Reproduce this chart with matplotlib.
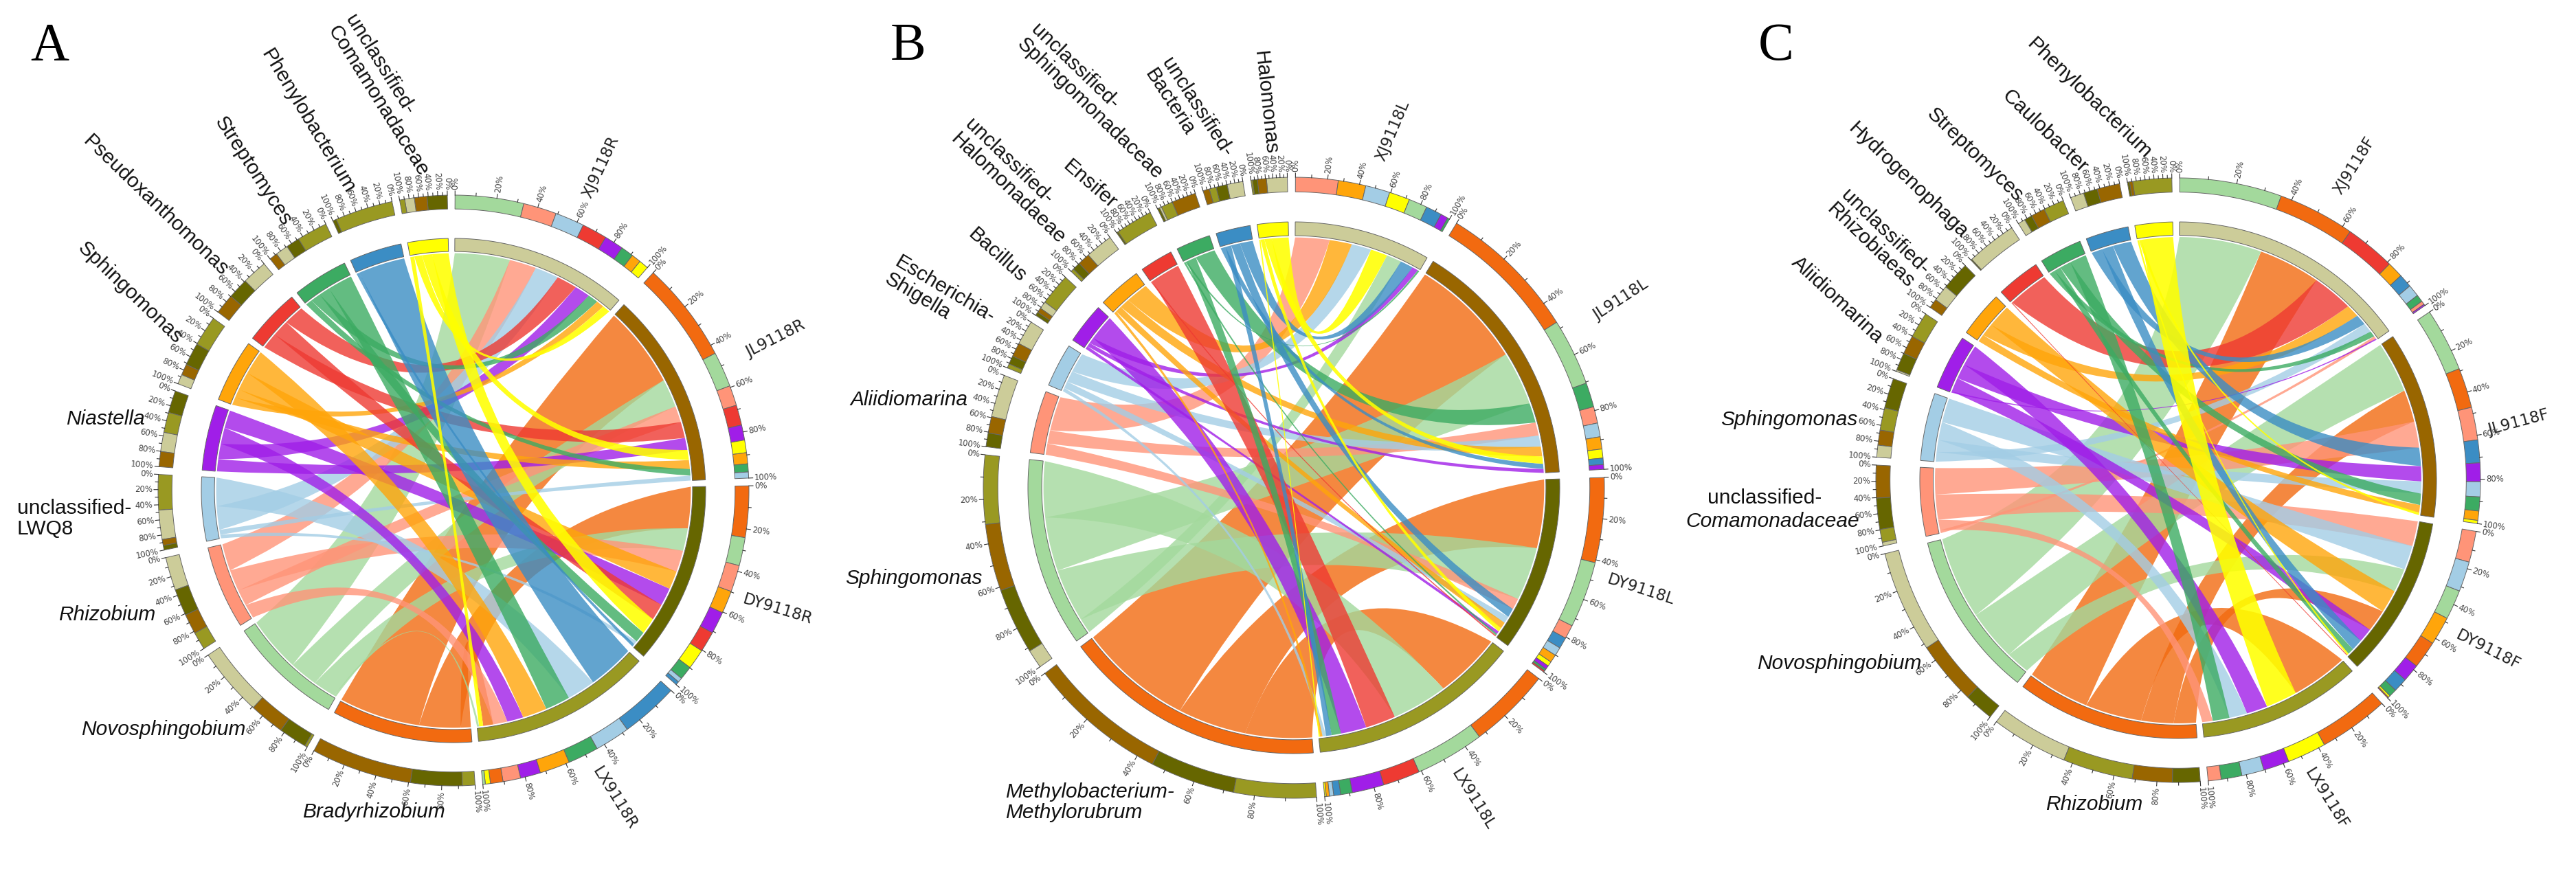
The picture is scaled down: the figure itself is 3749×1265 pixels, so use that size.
import numpy as np
import matplotlib
matplotlib.use('Agg')
import matplotlib.pyplot as plt
from matplotlib.patches import PathPatch, Polygon
from matplotlib.path import Path

# Colours: one per taxon position, one per sample
taxon_colors = ['#F26A10', '#A3D99C', '#FF9478', '#A3CDE5', '#A01EE8',
                '#FFA50A', '#EE3A32', '#3CAB62', '#3B8DC4', '#FFFF00']
sample_colors = ['#CCCC99', '#996600', '#666600', '#999922']

# Panel A: rows are taxa, columns are samples
samples_a = ['XJ9118R', 'JL9118R', 'DY9118R', 'LX9118R']
taxa_a = ['Bradyrhizobium', 'Novosphingobium', 'Rhizobium', 'unclassified-LWQ8', 'Niastella',
          'Sphingomonas', 'Pseudoxanthomonas', 'Streptomyces', 'Phenylobacterium',
          'unclassified-Comamonadaceae']
values_a = [[0, 20.0, 10.2, 2.5],
            [13.6, 7.0, 5.6, 0.5],
            [6.6, 4.0, 5.3, 3.5],
            [5.8, 1.2, 0.9, 7.0],
            [3.8, 3.0, 4.4, 4.0],
            [1.9, 2.2, 4.5, 6.0],
            [5.0, 4.0, 4.1, 0],
            [2.5, 1.6, 2.7, 6.1],
            [0, 0, 0.7, 11.5],
            [1.9, 2.5, 4.0, 1.0]]

# Panel B
samples_b = ['XJ9118L', 'JL9118L', 'DY9118L', 'LX9118L']
taxa_b = ['Methylobacterium-Methylorubrum', 'Sphingomonas', 'Aliidiomarina', 'Escherichia-Shigella',
          'Bacillus', 'unclassified-Halomonadaceae', 'Ensifer', 'unclassified-Sphingomonadaceae',
          'unclassified-Bacteria', 'Halomonas']
values_b = [[0, 26.4, 16.0, 15.5],
            [3.5, 12.6, 12.5, 13.0],
            [8.0, 3.1, 2.6, 0],
            [4.6, 2.6, 1.6, 0.8],
            [1.4, 0.9, 0.7, 6.0],
            [5.2, 2.3, 1.5, 0.6],
            [0, 0, 0.3, 7.0],
            [0.4, 4.6, 0.4, 2.2],
            [3.0, 1.2, 2.1, 1.3],
            [3.9, 1.7, 0.9, 0.3]]

# Panel C
samples_c = ['XJ9118F', 'JL9118F', 'DY9118F', 'LX9118F']
taxa_c = ['Rhizobium', 'Novosphingobium', 'unclassified-Comamonadaceae', 'Sphingomonas', 'Aliidiomarina',
          'unclassified-Rhizobiaeas', 'Hydrogenophaga', 'Streptomyces', 'Caulobacter', 'Phenylobacterium']
values_c = [[14.8, 7.7, 5.3, 13.5],
            [19.7, 12.2, 5.7, 0],
            [0.7, 6.3, 6.0, 2.5],
            [2.3, 2.9, 5.8, 4.3],
            [0.3, 3.6, 3.4, 5.0],
            [3.1, 1.8, 5.5, 0],
            [9.7, 0, 0.2, 0],
            [1.4, 2.7, 1.5, 4.0],
            [2.6, 4.4, 2.7, 0],
            [0, 0.6, 0.4, 7.5]]

GAP = 1.5
SANS = 'Liberation Sans'


def pol(cx, cy, r, deg):
    t = np.radians(deg)
    return cx + r * np.sin(t), cy - r * np.cos(t)


def arc(cx, cy, r, a, b, n=40):
    t = np.linspace(a, b, n)
    x, y = pol(cx, cy, r, t)
    return list(zip(x, y))


def ring(ax, cx, cy, r0, r1, a, b, color):
    pts = arc(cx, cy, r1, a, b) + arc(cx, cy, r0, b, a)
    ax.add_patch(Polygon(pts, closed=True, facecolor=color, edgecolor='#666666', lw=0.7, zorder=5))


def ribbon(ax, cx, cy, r, a1, a2, b1, b2, color, z, alpha):
    # a1->a2 on the sample side, b1->b2 on the taxon side, both clockwise
    def ctrl(p, q):
        d = abs(p - q)
        if d > 180:
            d = 360 - d
        # mid angle on the short way round
        mid = (p + q) / 2 if abs(p - q) <= 180 else (p + q) / 2 + 180
        return pol(cx, cy, 0.28 * r * np.cos(np.radians(d / 2)), mid)

    verts = arc(cx, cy, r, a1, a2, 24)
    codes = [Path.MOVETO] + [Path.LINETO] * 23
    verts += [ctrl(a2, b1), pol(cx, cy, r, b1)]
    codes += [Path.CURVE3, Path.CURVE3]
    verts += arc(cx, cy, r, b1, b2, 24)[1:]
    codes += [Path.LINETO] * 23
    verts += [ctrl(b2, a1), pol(cx, cy, r, a1), pol(cx, cy, r, a1)]
    codes += [Path.CURVE3, Path.CURVE3, Path.CLOSEPOLY]
    ax.add_patch(PathPatch(Path(verts, codes), facecolor=color, edgecolor='none', alpha=alpha, zorder=z))


def pct_axis(ax, cx, cy, r, a, b):
    # a is where 0% sits and b where 100% sits
    for p in range(0, 101, 10):
        ang = a + (b - a) * p / 100
        major = p % 20 == 0
        x0, y0 = pol(cx, cy, r, ang)
        x1, y1 = pol(cx, cy, r + (6 if major else 4), ang)
        ax.plot([x0, x1], [y0, y1], color='#333333', lw=0.8, zorder=6)
        if major:
            tx, ty = pol(cx, cy, r + 8, ang)
            right = (ang % 360) < 180
            rot = 90 - ang if right else 270 - ang
            ax.text(tx, ty, f'{p}%', fontsize=8.5, color='#444444', rotation=rot,
                    rotation_mode='anchor', ha='left' if right else 'right', va='center', zorder=7)


def chord(ax, cx, cy, r_in, r_out, samples, taxa, values):
    m = np.array(values, dtype=float)
    n_t, n_s = m.shape
    # every value shows up twice round the circle, once per side
    scale = (360 - GAP * (n_t + n_s)) / (2 * m.sum())
    w_in = r_in * 0.052
    w_out = r_out * 0.047
    r_link = r_in - w_in - 2.5

    # sector limits going clockwise from the top: samples, then taxa
    pos = 0.3
    s_lim, t_lim = [], []
    for j in range(n_s):
        s_lim.append((pos, pos + m[:, j].sum() * scale))
        pos = s_lim[-1][1] + GAP
    for i in range(n_t):
        t_lim.append((pos, pos + m[i, :].sum() * scale))
        pos = t_lim[-1][1] + GAP

    s_ends, t_ends = {}, {}
    for j in range(n_s):
        a, b = s_lim[j]
        cur = a
        for i in sorted(range(n_t), key=lambda k: -m[k, j]):
            if m[i, j] <= 0:
                continue
            s_ends[(i, j)] = (cur, cur + m[i, j] * scale)
            ring(ax, cx, cy, r_out - w_out, r_out, cur, cur + m[i, j] * scale, taxon_colors[i])
            cur += m[i, j] * scale
        ring(ax, cx, cy, r_in - w_in, r_in, a, b, sample_colors[j])
        pct_axis(ax, cx, cy, r_out, a, b)

    for i in range(n_t):
        a, b = t_lim[i]
        cur = b
        for j in sorted(range(n_s), key=lambda k: -m[i, k]):
            if m[i, j] <= 0:
                continue
            t_ends[(i, j)] = (cur - m[i, j] * scale, cur)
            ring(ax, cx, cy, r_out - w_out, r_out, cur - m[i, j] * scale, cur, sample_colors[j])
            cur -= m[i, j] * scale
        ring(ax, cx, cy, r_in - w_in, r_in, a, b, taxon_colors[i])
        pct_axis(ax, cx, cy, r_out, b, a)

    for i in range(n_t):
        for j in range(n_s):
            if (i, j) in s_ends:
                a1, a2 = s_ends[(i, j)]
                b1, b2 = t_ends[(i, j)]
                # the yellow links sit almost opaque on top
                alpha = 0.88 if i == n_t - 1 else 0.8
                ribbon(ax, cx, cy, r_link, a1, a2, b1, b2, taxon_colors[i], 2 + i * 0.1, alpha)


fig = plt.figure(figsize=(37.49, 12.65), dpi=100)
ax = fig.add_axes([0, 0, 1, 1])
ax.set_xlim(0, 3749)
ax.set_ylim(1265, 0)
ax.axis('off')

chord(ax, 660, 714, 367, 430, samples_a, taxa_a, values_a)
chord(ax, 1883, 710, 387, 452, samples_b, taxa_b, values_b)
chord(ax, 3170, 699, 376, 440, samples_c, taxa_c, values_c)

# Panel letters
for letter, x, y in [('A', 72, 68), ('B', 1322, 68), ('C', 2585, 68)]:
    ax.text(x, y, letter, fontsize=56, family='Liberation Serif', ha='center', va='center')

# Sample names: text, x, y, rotation
sample_labels = [(samples_a[0], 874, 243, 65), (samples_a[1], 1129, 493, 27),
                 (samples_a[2], 1132, 887, -17), (samples_a[3], 894, 1162, -58),
                 (samples_b[0], 2027, 190, 67), (samples_b[1], 2359, 437, 33),
                 (samples_b[2], 2388, 859, -18), (samples_b[3], 2144, 1164, -58),
                 (samples_c[0], 3426, 241, 58), (samples_c[1], 3665, 615, 15),
                 (samples_c[2], 3621, 946, -27), (samples_c[3], 3386, 1163, -58)]
for txt, x, y, rot in sample_labels:
    ax.text(x, y, txt, fontsize=16.5, rotation=rot, ha='center', va='center', color='#222222')

# Taxon names: text, x, y, rotation, font style
taxon_labels = [
    ('Bradyrhizobium', 544, 1182, 0, 'italic'), ('Novosphingobium', 238, 1062, 0, 'italic'),
    ('Rhizobium', 156, 895, 0, 'italic'), ('Niastella', 153, 610, 0, 'italic'),
    ('unclassified-\nLWQ8', 108, 755, 0, 'normal'),
    ('Sphingomonas', 189, 426, -44, 'normal'), ('Pseudoxanthomonas', 226, 299, -44, 'normal'),
    ('Streptomyces', 368, 249, -57, 'normal'), ('Phenylobacterium', 448, 177, -59, 'normal'),
    ('unclassified-\nComamonadaceae', 563, 139, -58, 'normal'),
    ('Methylobacterium-\nMethylorubrum', 1586, 1168, 0, 'italic'), ('Sphingomonas', 1330, 842, 0, 'italic'),
    ('Aliidiomarina', 1323, 582, 0, 'italic'), ('Escherichia-\nShigella', 1368, 434, -31, 'normal'),
    ('Bacillus', 1451, 372, -42, 'normal'), ('unclassified-\nHalomonadaeae', 1477, 264, -44, 'normal'),
    ('Ensifer', 1586, 269, -41, 'normal'), ('unclassified-\nSphingomonadaceae', 1596, 148, -44, 'normal'),
    ('unclassified-\nBacteria', 1730, 164, -57, 'normal'), ('Halomonas', 1841, 149, -84, 'normal'),
    ('Rhizobium', 3048, 1171, 0, 'italic'), ('Novosphingobium', 2677, 966, 0, 'italic'),
    ('unclassified-', 2568, 725, 0, 'normal'), ('Comamonadaceae', 2580, 759, 0, 'italic'),
    ('Sphingomonas', 2604, 611, 0, 'italic'), ('Aliidiomarina', 2674, 437, -43, 'normal'),
    ('unclassified-\nRhizobiaeas', 2733, 348, -44, 'normal'), ('Hydrogenophaga', 2777, 263, -44, 'normal'),
    ('Streptomyces', 2874, 225, -44, 'normal'), ('Caulobacter', 2976, 191, -44, 'normal'),
    ('Phenylobacterium', 3040, 143, -44, 'normal'),
]
for txt, x, y, rot, style in taxon_labels:
    ax.text(x, y, txt, fontsize=21.5, family=SANS, style=style, rotation=rot, ha='center', va='center',
            multialignment='left', linespacing=1.05, color='#111111')

fig.savefig('out.png', dpi=100, facecolor='white')
